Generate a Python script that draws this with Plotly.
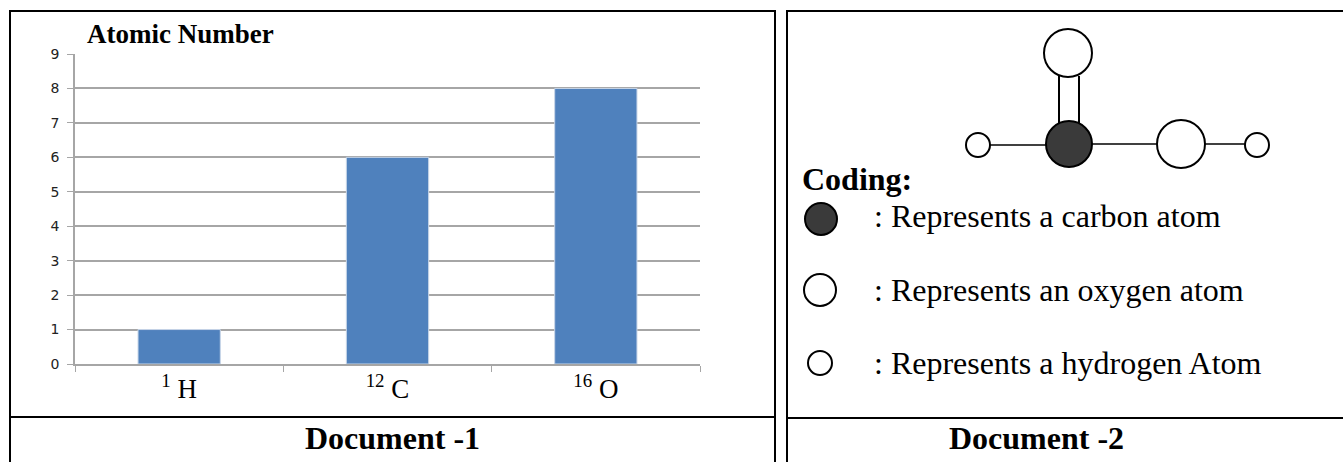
import plotly.graph_objects as go

categories = ["<sup>1</sup> H", "<sup>12</sup> C", "<sup>16</sup> O"]
atomic_numbers = [1, 6, 8]
y_ticks = list(range(0, 10))
chart_title = "Atomic Number"
caption_left = "Document -1"
caption_right = "Document -2"
coding_title = "Coding:"
coding_labels = [": Represents a carbon atom", ": Represents an oxygen atom", ": Represents a hydrogen Atom"]

W, H = 1343, 462
SERIF = "Liberation Serif"
px = lambda x: x / W
py = lambda y: 1 - y / H

fig = go.Figure(go.Bar(x=categories, y=atomic_numbers, width=0.395,
                       marker=dict(color="#4F81BD", line=dict(color="#C8D6E8", width=1))))

shapes = []
def line(x0, y0, x1, y1, w=1.5, c="black"):
    shapes.append(dict(type="line", xref="paper", yref="paper", x0=px(x0), y0=py(y0), x1=px(x1), y1=py(y1),
                       line=dict(color=c, width=w), layer="above"))
def circle(cx, cy, r, fill="white", w=2):
    shapes.append(dict(type="circle", xref="paper", yref="paper", x0=px(cx - r), x1=px(cx + r),
                       y0=py(cy + r), y1=py(cy - r), fillcolor=fill, line=dict(color="black", width=w), layer="above"))

# table frame
line(9, 11, 775, 11, 2); line(787, 11, 1343, 11, 2)
line(9, 417, 775, 417, 2); line(787, 418, 1343, 418, 2)
line(10, 10, 10, 462, 2); line(775, 10, 775, 462, 2); line(787, 10, 787, 462, 2)

# molecule bonds
line(1059, 76, 1059, 124, 2); line(1079, 76, 1079, 124, 2)
line(988, 145, 1050, 145, 1.5); line(1090, 144, 1160, 144, 1.5); line(1203, 144, 1246, 144, 1.5)
# atoms
circle(1068, 53, 24); circle(1069, 144, 23, "#3A3A3A"); circle(1181, 144, 24)
circle(978, 145, 12); circle(1257, 145, 12)
# key
circle(821, 219, 16, "#3A3A3A"); circle(820, 290, 16); circle(820, 363, 12)

def text(t, x, y, size, bold=False, anchor="left", font=SERIF):
    return dict(text=f"<b>{t}</b>" if bold else t, x=px(x), y=py(y), xref="paper", yref="paper",
                xanchor=anchor, yanchor="middle", showarrow=False,
                font=dict(family=font, size=size, color="black"))

ann = [
    text(chart_title, 85, 34, 27, True),
    text(caption_left, 392, 438, 32, True, "center"),
    text(caption_right, 1036, 438, 32, True, "center"),
    text(coding_title, 800, 179, 32, True),
]
for label, yy in zip(coding_labels, [216, 290, 363]):
    ann.append(text(label, 872, yy, 32))

fig.update_layout(
    width=W, height=H, margin=dict(l=0, r=0, t=0, b=0), autosize=False,
    paper_bgcolor="white", plot_bgcolor="white", showlegend=False,
    shapes=shapes, annotations=ann, bargap=0.6,
    xaxis=dict(domain=[px(75), px(700)], type="category", range=[-0.5, 2.5], tickson="boundaries",
               automargin=False,
               ticks="outside", ticklen=6, tickcolor="#A6A6A6", linecolor="#A6A6A6", linewidth=1.5,
               showline=True, showgrid=False, tickfont=dict(family=SERIF, size=27, color="black")),
    yaxis=dict(domain=[py(364), py(54)], range=[0, 9], tickvals=y_ticks, ticks="outside", ticklen=6,
               automargin=False, ticklabelstandoff=5,
               tickcolor="#A6A6A6", linecolor="#A6A6A6", linewidth=1.5, showline=True,
               gridcolor="#A6A6A6", gridwidth=1.5, zeroline=False,
               tickfont=dict(family="DejaVu Sans", size=14, color="#222222")),
)
fig.write_html("out.html", post_script="document.body.style.margin='0';", config={"displayModeBar": False})
